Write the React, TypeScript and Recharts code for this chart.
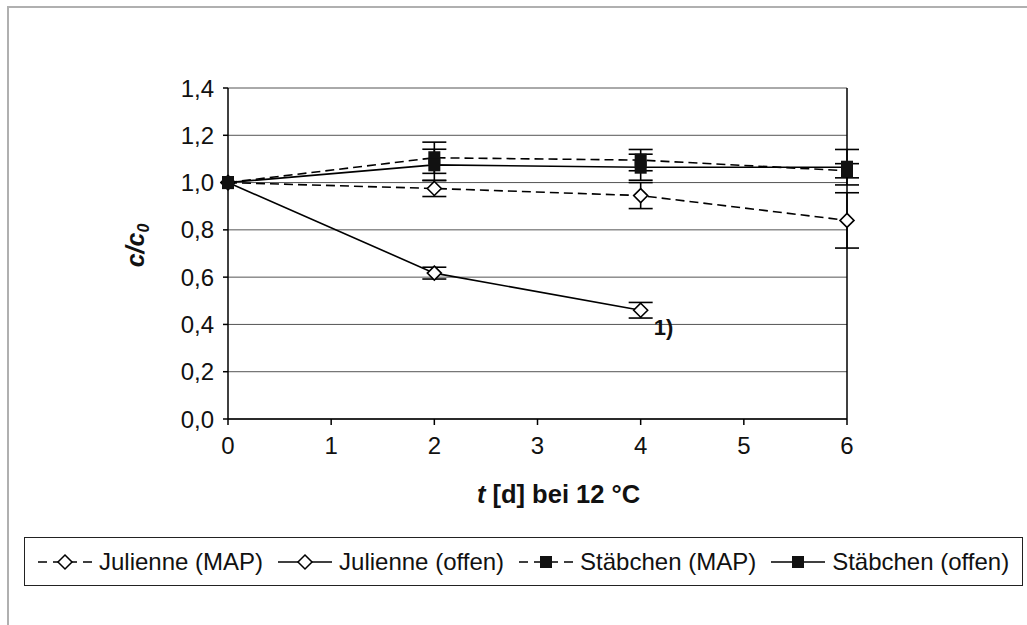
import React from 'react';
import { LineChart, Line, XAxis, YAxis, CartesianGrid, ErrorBar, ReferenceLine, ReferenceDot } from 'recharts';

const days = [0, 2, 4, 6];
const xTicks = [0, 1, 2, 3, 4, 5, 6];
const yTicks = [0, 0.2, 0.4, 0.6, 0.8, 1.0, 1.2, 1.4];

const julienneMap = [1.0, 0.975, 0.945, 0.84];
const julienneMapErr = [null, 0.034, 0.055, 0.117];
const julienneOffen = [1.0, 0.617, 0.46, null];
const julienneOffenErr = [null, 0.025, 0.033, null];
const staebchenMap = [1.0, 1.105, 1.095, 1.05];
const staebchenMapErr = [null, 0.066, 0.045, 0.03];
const staebchenOffen = [1.0, 1.075, 1.065, 1.065];
const staebchenOffenErr = [null, 0.066, 0.055, 0.075];

const data = days.map((t, i) => ({
    t,
    jm: julienneMap[i],
    jmErr: julienneMapErr[i],
    jo: julienneOffen[i],
    joErr: julienneOffenErr[i],
    sm: staebchenMap[i],
    smErr: staebchenMapErr[i],
    so: staebchenOffen[i],
    soErr: staebchenOffenErr[i],
}));

const FONT = '"Liberation Sans", Arial, sans-serif';
const DASH = '9 5';

const Diamond = (props: any) => {
    const { cx, cy, index } = props;
    if (cx == null || cy == null) return <g key={index} />;
    const r = 7;
    return (
        <path key={index} d={`M${cx},${cy - r}L${cx + r},${cy}L${cx},${cy + r}L${cx - r},${cy}Z`}
            fill="#fff" stroke="#000" strokeWidth={1.6} />
    );
};

const Square = (props: any) => {
    const { cx, cy, index } = props;
    if (cx == null || cy == null) return <g key={index} />;
    return <rect key={index} x={cx - 6} y={cy - 6.5} width={12} height={13} fill="#111" />;
};

const XTitle = (props: any) => {
    const vb = props.viewBox;
    return (
        <text x={vb.x + vb.width / 2 + 21} y={vb.y + 84} textAnchor="middle" fontFamily={FONT} fontSize={25.5} fontWeight="bold" fill="#111">
            <tspan fontStyle="italic">t</tspan> [d] bei 12 °C
        </text>
    );
};

const YTitle = (props: any) => {
    const vb = props.viewBox;
    const x = vb.x + 16;
    const y = vb.y + vb.height / 2 - 8;
    return (
        <text x={x} y={y} transform={`rotate(-90 ${x} ${y})`} textAnchor="middle" fontFamily={FONT} fontSize={25} fontWeight="bold" fontStyle="italic" fill="#111">
            c/c<tspan fontSize={16} dy={5}>0</tspan>
        </text>
    );
};

const NoteLabel = (props: any) => {
    const vb = props.viewBox;
    return (
        <text x={vb.x + 13} y={vb.y + 25} fontFamily={FONT} fontSize={22} fontWeight="bold" fill="#111">1)</text>
    );
};

const LegendIcon = ({ dashed, square }: { dashed: boolean; square: boolean }) => (
    <svg width={54} height={20} style={{ display: 'block' }}>
        <line x1={0} y1={10} x2={54} y2={10} stroke="#000" strokeWidth={1.5} strokeDasharray={dashed ? '9 6' : undefined} />
        {square
            ? <rect x={21} y={4} width={12} height={12} fill="#111" />
            : <path d="M27,3L34,10L27,17L20,10Z" fill="#fff" stroke="#000" strokeWidth={1.5} />}
    </svg>
);

const legendItems = [
    { name: 'Julienne (MAP)', dashed: true, square: false },
    { name: 'Julienne (offen)', dashed: false, square: false },
    { name: 'Stäbchen (MAP)', dashed: true, square: true },
    { name: 'Stäbchen (offen)', dashed: false, square: true },
];

const fmt = (v: number) => v.toFixed(1).replace('.', ',');

export default function App() {
    return (
        <div style={{ position: 'absolute', left: 0, top: 0, width: 1027, height: 625, background: '#fff', fontFamily: FONT, overflow: 'hidden' }}>
            <style>{'html,body{overflow:hidden;margin:0}'}</style>
            <div style={{ position: 'absolute', left: 7, top: 6, width: 1100, height: 700, borderTop: '2px solid #b0b0b0', borderLeft: '2px solid #b0b0b0' }} />
            <div style={{ position: 'absolute', left: 0, top: 0 }}>
                <LineChart width={1027} height={625} data={data} margin={{ top: 88, right: 180, left: 128, bottom: 106 }}>
                    <CartesianGrid horizontal vertical={false} stroke="#555" strokeWidth={1} />
                    <XAxis dataKey="t" type="number" domain={[0, 6]} ticks={xTicks} height={100}
                        stroke="#000" strokeWidth={1.5} tickSize={6} tickMargin={12}
                        tick={{ fill: '#111', fontSize: 24, fontFamily: FONT }}
                        label={{ content: XTitle }} />
                    <YAxis type="number" domain={[0, 1.4]} ticks={yTicks} width={100} tickFormatter={fmt}
                        stroke="#000" strokeWidth={1.5} tickSize={5} tickMargin={9}
                        tick={{ fill: '#111', fontSize: 24, fontFamily: FONT }}
                        label={{ content: YTitle }} />
                    <ReferenceLine x={6} stroke="#000" strokeWidth={1.5} />
                    <Line dataKey="jm" stroke="#000" strokeWidth={1.6} strokeDasharray={DASH} dot={Diamond} isAnimationActive={false}>
                        <ErrorBar dataKey="jmErr" width={12} stroke="#000" strokeWidth={1.6} direction="y" />
                    </Line>
                    <Line dataKey="jo" stroke="#000" strokeWidth={1.6} dot={Diamond} isAnimationActive={false}>
                        <ErrorBar dataKey="joErr" width={12} stroke="#000" strokeWidth={1.6} direction="y" />
                    </Line>
                    <Line dataKey="sm" stroke="#000" strokeWidth={1.6} strokeDasharray={DASH} dot={Square} isAnimationActive={false}>
                        <ErrorBar dataKey="smErr" width={12} stroke="#000" strokeWidth={1.6} direction="y" />
                    </Line>
                    <Line dataKey="so" stroke="#000" strokeWidth={1.6} dot={Square} isAnimationActive={false}>
                        <ErrorBar dataKey="soErr" width={12} stroke="#000" strokeWidth={1.6} direction="y" />
                    </Line>
                    <ReferenceDot x={4} y={julienneOffen[2] as number} r={0} stroke="none" label={{ content: NoteLabel }} />
                </LineChart>
            </div>
            <div style={{
                position: 'absolute', left: 24, top: 537, width: 999, height: 49, boxSizing: 'border-box',
                border: '1.5px solid #222', display: 'flex', alignItems: 'center', paddingLeft: 13,
                fontSize: 24, color: '#111',
            }}>
                {legendItems.map((it) => (
                    <div key={it.name} style={{ display: 'flex', alignItems: 'center', marginRight: 15 }}>
                        <LegendIcon dashed={it.dashed} square={it.square} />
                        <span style={{ marginLeft: 7, whiteSpace: 'nowrap' }}>{it.name}</span>
                    </div>
                ))}
            </div>
        </div>
    );
}
